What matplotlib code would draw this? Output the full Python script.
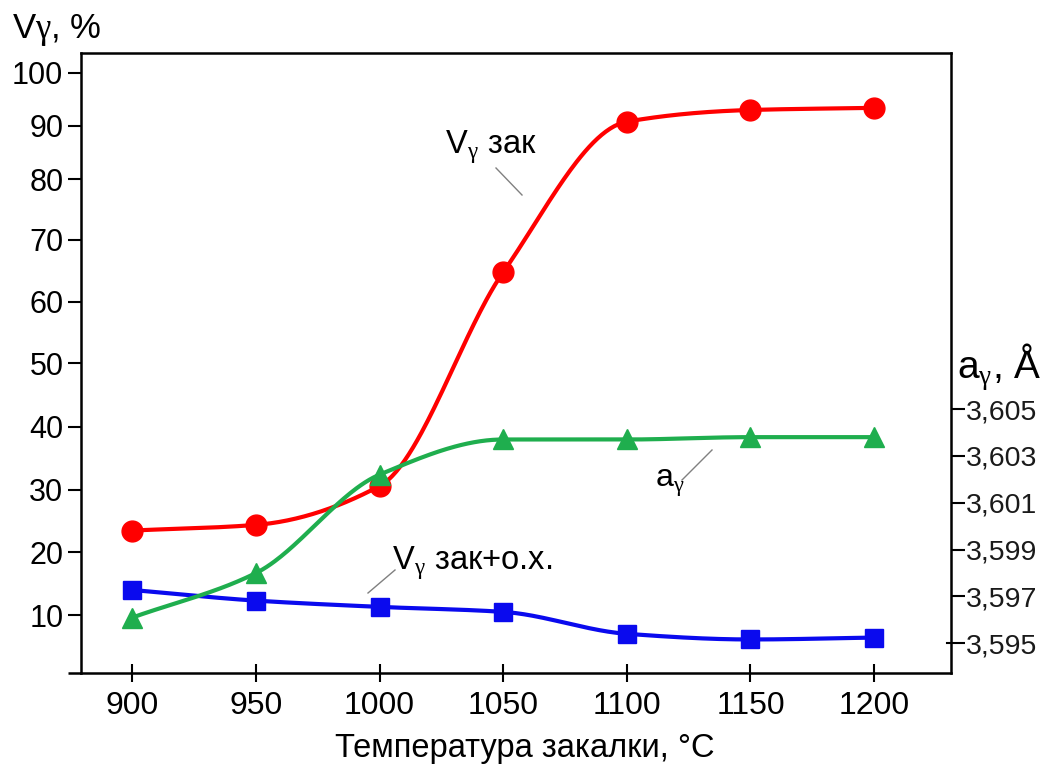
import numpy as np
import matplotlib
matplotlib.use("Agg")
import matplotlib.pyplot as plt

plt.rcParams['font.family'] = ['Liberation Sans', 'DejaVu Sans']
plt.rcParams['mathtext.fontset'] = 'custom'
plt.rcParams['mathtext.sf'] = 'Liberation Serif'

# Quenching temperature, °C
temps = [900, 950, 1000, 1050, 1100, 1150, 1200]
# Retained austenite after quenching, %
v_quench = [23.5, 24.4, 30.6, 64.8, 90.8, 93.0, 93.4]
# Retained austenite after quenching + cold treatment, %
v_quench_cold = [14.0, 12.3, 11.3, 10.5, 7.0, 6.1, 6.4]
# Austenite lattice parameter, Å
a_gamma = [3.5961, 3.5980, 3.6022, 3.6037, 3.6037, 3.6038, 3.6038]

x_ticks = [900, 950, 1000, 1050, 1100, 1150, 1200]
left_ticks = [10, 20, 30, 40, 50, 60, 70, 80, 90, 100]
right_ticks = [3.595, 3.597, 3.599, 3.601, 3.603, 3.605]
right_tick_labels = ['3,595', '3,597', '3,599', '3,601', '3,603', '3,605']

# Graduation of the left axis (value -> position along the drawn axis)
grad_values = [-20, 0, 10, 20, 30, 40, 50, 60, 70, 80, 90, 100, 120]
grad_pos = [-125.2, 0, 62.7, 125.3, 188, 251.3, 314.5, 376, 438, 498.7, 552, 605.3, 712]


def fwd(v):
    return np.interp(v, grad_values, grad_pos)


def inv(u):
    return np.interp(u, grad_pos, grad_values)


def smooth(xs, ys, n=60):
    """Monotone cubic (Fritsch-Carlson) curve through the given points."""
    x = np.asarray(xs, float)
    y = np.asarray(ys, float)
    h = np.diff(x)
    d = np.diff(y) / h
    m = np.zeros_like(y)
    m[0], m[-1] = d[0], d[-1]
    for i in range(1, len(x) - 1):
        if d[i - 1] * d[i] <= 0:
            m[i] = 0.0
        else:
            w1 = 2 * h[i] + h[i - 1]
            w2 = h[i] + 2 * h[i - 1]
            m[i] = (w1 + w2) / (w1 / d[i - 1] + w2 / d[i])
    xo, yo = [], []
    for i in range(len(x) - 1):
        t = np.linspace(0, 1, n)
        if i > 0:
            t = t[1:]
        h00 = 2 * t ** 3 - 3 * t ** 2 + 1
        h10 = t ** 3 - 2 * t ** 2 + t
        h01 = -2 * t ** 3 + 3 * t ** 2
        h11 = t ** 3 - t ** 2
        xo.append(x[i] + t * h[i])
        yo.append(h00 * y[i] + h10 * h[i] * m[i] + h01 * y[i + 1] + h11 * h[i] * m[i + 1])
    return np.concatenate(xo), np.concatenate(yo)


W, H = 1054, 764
fig = plt.figure(figsize=(W / 100, H / 100), dpi=100)


def fx(x):
    return x / W


def fy(y):
    return 1 - y / H


left, right, top, bottom = 80.7, 950.7, 52.7, 673.3
ax = fig.add_axes([fx(left), fy(bottom), fx(right - left), (bottom - top) / H])
ax.set_yscale('function', functions=(fwd, inv))
ax.set_xlim(879.1, 1231)
ax.set_ylim(0.7, 103.75)

red, blue, green = '#ff0000', '#0a0aee', '#1fae4e'
lw = 3.0

# Vγ quench
sx, su = smooth(temps, fwd(np.array(v_quench)))
ax.plot(sx, inv(su), color=red, lw=lw, solid_capstyle='round', zorder=3)
ax.plot(temps, v_quench, 'o', color=red, ms=15, zorder=4)

# Vγ quench + cold treatment
sx, su = smooth(temps, fwd(np.array(v_quench_cold)))
ax.plot(sx, inv(su), color=blue, lw=lw, zorder=3)
ax.plot(temps, v_quench_cold, 's', color=blue, ms=12.5, zorder=4)

spine_lw = 1.8
for s in ['left', 'bottom', 'top']:
    ax.spines[s].set_linewidth(spine_lw)
ax.spines['right'].set_visible(False)

ax.set_xticks(x_ticks)
ax.set_xticklabels([str(t) for t in x_ticks])
ax.set_yticks(left_ticks)
ax.set_yticklabels([str(t) for t in left_ticks])
ax.minorticks_off()
ax.tick_params(axis='x', direction='inout', length=13, width=1.5, labelsize=23, pad=6)
ax.tick_params(axis='y', direction='out', length=9.5, width=1.5, labelsize=22, pad=3)

# bottom axis line runs a little past the left axis
ax.plot([-12.5 / (right - left), 0], [0, 0], transform=ax.transAxes, color='black',
        lw=spine_lw, clip_on=False, solid_capstyle='butt')

# Right axis: lattice parameter
ax2 = ax.twinx()
ax2.set_ylim(3.59372, 3.62021)
sx, sy = smooth(temps, a_gamma)
ax2.plot(sx, sy, color=green, lw=lw, zorder=3)
ax2.plot(temps, a_gamma, '^', color=green, ms=14, zorder=4)
for s in ['left', 'bottom', 'top']:
    ax2.spines[s].set_visible(False)
ax2.spines['right'].set_linewidth(spine_lw)
ax2.set_yticks(right_ticks)
ax2.set_yticklabels(right_tick_labels)
ax2.minorticks_off()
ax2.tick_params(axis='y', direction='out', length=10, width=1.5, labelsize=20.5, pad=1,
                labelcolor='#1a1a1a')
ax2.plot([1 - 4 / (right - left), 1], [3.595, 3.595], transform=ax2.get_yaxis_transform(),
         color='black', lw=1.5, clip_on=False)

# Axis titles
fig.text(fx(12), fy(38), r'V$\mathsf{γ}$, %', fontsize=25, ha='left', va='baseline')
fig.text(fx(957), fy(378), r'a$_{\mathsf{γ}}$, Å', fontsize=28, ha='left', va='baseline')
fig.text(fx(525), fy(757), 'Температура закалки, °C', fontsize=23.5, ha='center', va='baseline')

# Curve labels with leader lines
grey = '#808080'
fig.text(fx(445), fy(153), r'V$_{\mathsf{γ}}$ зак', fontsize=23.5, ha='left', va='baseline')
fig.add_artist(plt.Line2D([fx(496), fx(522)], [fy(168), fy(195)], color=grey, lw=1))

fig.text(fx(655), fy(487), r'a$_{\mathsf{γ}}$', fontsize=23, ha='left', va='baseline')
fig.add_artist(plt.Line2D([fx(682), fx(712)], [fy(480), fy(450)], color=grey, lw=1))

fig.text(fx(392), fy(569), r'V$_{\mathsf{γ}}$ зак+о.х.', fontsize=23.5, ha='left', va='baseline')
fig.add_artist(plt.Line2D([fx(368), fx(395)], [fy(593), fy(570)], color=grey, lw=1))

fig.savefig('out.png', dpi=100)
